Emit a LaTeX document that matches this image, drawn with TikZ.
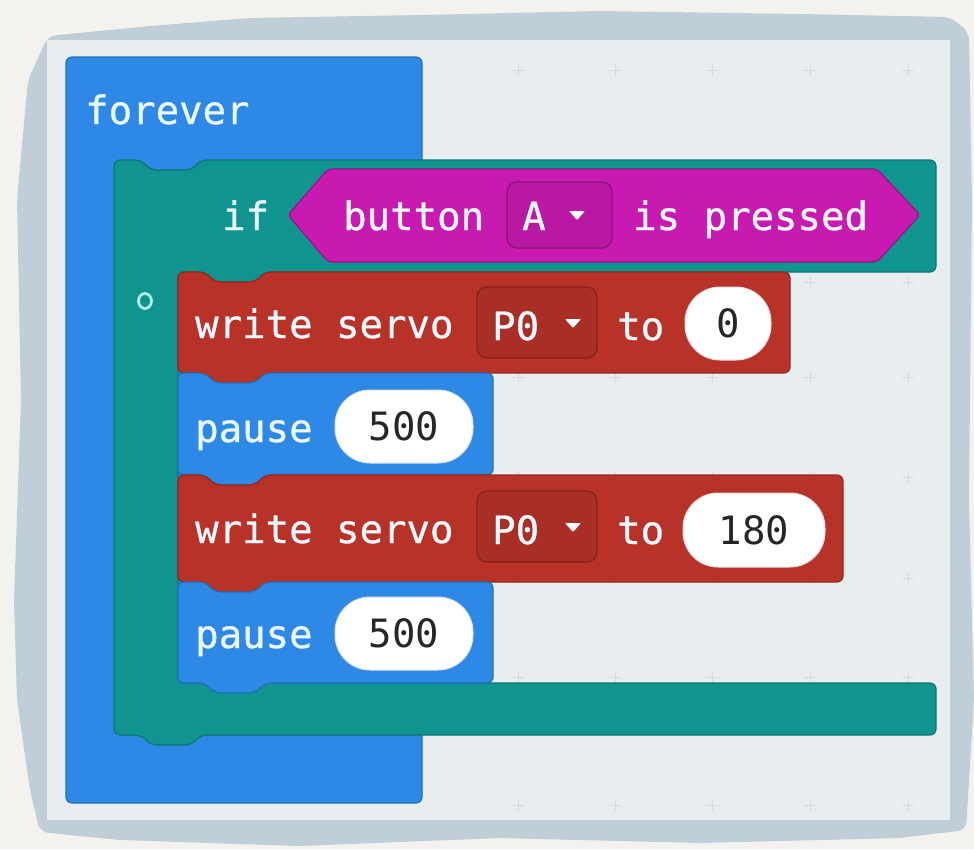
\documentclass[tikz,border=0pt]{standalone}
\usepackage{fontspec}
\usetikzlibrary{shapes.geometric}
\setmonofont{DejaVu Sans Mono}
\newfontfamily\blockfont[FakeBold=0.8]{DejaVu Sans Mono}

\definecolor{pagebg}{RGB}{244,242,238}
\definecolor{wash}{RGB}{192,206,216}
\definecolor{panel}{RGB}{232,238,240}
\definecolor{loopblue}{RGB}{45,137,229}
\definecolor{logicteal}{RGB}{16,148,143}
\definecolor{inputpink}{RGB}{200,26,176}
\definecolor{pinsred}{RGB}{184,50,40}

\tikzset{
  blk/.style={line width=1.2pt, rounded corners=6pt},
  lbl/.style={font=\fontsize{39}{46}\selectfont\blockfont, text=white!92!cyan, inner sep=0pt, anchor=base west},
  pill/.style={fill=white, draw=black!12, line width=1pt, rounded corners=35pt, inner sep=0pt,
    font=\fontsize{39}{46}\selectfont\ttfamily, text=black!85},
  dropbox/.style={rounded corners=10pt, line width=1.2pt, inner sep=0pt},
  gridmark/.style={draw=black!15, line width=1pt}
}

% statement block: fill, outline, x1, y1, x2, y2
\newcommand{\stmtblock}[6]{%
  \filldraw[blk, fill=#1, draw=#2] (#3,#4) -- ({#3+27},#4) -- ({#3+37},{#4+10}) -- ({#3+77},{#4+10}) -- ({#3+87},#4)
    -- (#5,#4) -- (#5,#6) -- ({#3+87},#6) -- ({#3+77},{#6+10}) -- ({#3+37},{#6+10}) -- ({#3+27},#6) -- (#3,#6) -- cycle;}

\begin{document}
\begin{tikzpicture}[x=1pt, y=-1pt]
  \useasboundingbox (0,0) rectangle (974,849);
  \fill[pagebg] (0,0) rectangle (974,849);

  % watercolour frame and workspace
  \fill[wash, rounded corners=8pt] (48,36) -- (150,26) -- (250,18) -- (420,15) -- (600,11) -- (800,14) -- (950,17)
    -- (969,32) -- (972,200) -- (969,500) -- (974,700) -- (966,830) -- (900,838) -- (700,843) -- (500,838)
    -- (300,846) -- (120,840) -- (40,832) -- (30,790) -- (17,700) -- (14,600) -- (21,400) -- (17,200) -- (28,80) -- cycle;
  \fill[panel] (47,40) rectangle (950,820);
  \foreach \gx in {518,615,712,810,908}
    \foreach \gy in {70,175,282,377,477,578,677,805}
      \draw[gridmark] (\gx-6,\gy) -- (\gx+6,\gy) (\gx,\gy-6) -- (\gx,\gy+6);

  % forever
  \filldraw[blk, fill=loopblue, draw=loopblue!80!black] (66,57) rectangle (422,803);
  \node[lbl] (fvr) at (85,124) {forever};

  % if block
  \filldraw[blk, fill=logicteal, draw=logicteal!80!black] (114,160) -- (141,160) -- (151,170) -- (191,170) -- (201,160)
    -- (936,160) -- (936,272) -- (265,272) -- (255,282) -- (215,282) -- (205,272) -- (178,272)
    -- (178,683) -- (936,683) -- (936,735) -- (201,735) -- (191,745) -- (151,745) -- (141,735) -- (114,735) -- cycle;
  \node[lbl] (iflbl) at (222,230) {if};
  \node[ellipse, draw={rgb,255:red,175;green,240;blue,238}, line width=2.8pt, inner sep=0pt, minimum width=13pt, minimum height=15pt] (gear) at (145,301) {};

  % condition
  \filldraw[blk, rounded corners=4pt, fill=inputpink, draw=inputpink!75!black] (288,215) -- (328,169) -- (877,169)
    -- (920,215) -- (877,262) -- (328,262) -- cycle;
  \node[lbl] (btnlbl) at (343,230) {button};
  \node[dropbox, fill=inputpink!92!black, draw=inputpink!70!black, minimum width=105pt, minimum height=66pt] (selA) at (559.5,215) {};
  \node[lbl] (selAtxt) at (522,230) {A};
  \fill[white, rounded corners=1pt] (569,211) -- (585,211) -- (577,220) -- cycle;
  \node[lbl] (prslbl) at (633,230) {is pressed};

  % first servo write
  \stmtblock{pinsred}{pinsred!80!black}{178}{272}{790}{373}
  \node[lbl] (wra) at (195,338) {write servo};
  \node[dropbox, fill=pinsred!92!black, draw=pinsred!70!black, minimum width=120pt, minimum height=71pt] (pina) at (537,322.5) {};
  \node[lbl] (pinatxt) at (492,340) {P0};
  \fill[white, rounded corners=1pt] (565,319) -- (581,319) -- (573,328) -- cycle;
  \node[lbl] (toa) at (617,340) {to};
  \node[pill, minimum width=86pt, minimum height=73pt] (anga) at (728,323.5) {0};

  % first pause
  \stmtblock{loopblue}{loopblue!80!black}{178}{373}{493}{475}
  \node[lbl] (psa) at (195,442) {pause};
  \node[pill, minimum width=138pt, minimum height=73pt] (msa) at (404,426.5) {500};

  % second servo write
  \stmtblock{pinsred}{pinsred!80!black}{178}{475}{843}{582}
  \node[lbl] (wrb) at (195,543) {write servo};
  \node[dropbox, fill=pinsred!92!black, draw=pinsred!70!black, minimum width=120pt, minimum height=71pt] (pinb) at (537,526.5) {};
  \node[lbl] (pinbtxt) at (492,544) {P0};
  \fill[white, rounded corners=1pt] (565,523) -- (581,523) -- (573,532) -- cycle;
  \node[lbl] (tob) at (617,544) {to};
  \node[pill, minimum width=142pt, minimum height=74pt] (angb) at (754,530) {180};

  % second pause
  \stmtblock{loopblue}{loopblue!80!black}{178}{582}{493}{683}
  \node[lbl] (psb) at (195,648) {pause};
  \node[pill, minimum width=138pt, minimum height=73pt] (msb) at (404,633.5) {500};
\end{tikzpicture}
\end{document}
